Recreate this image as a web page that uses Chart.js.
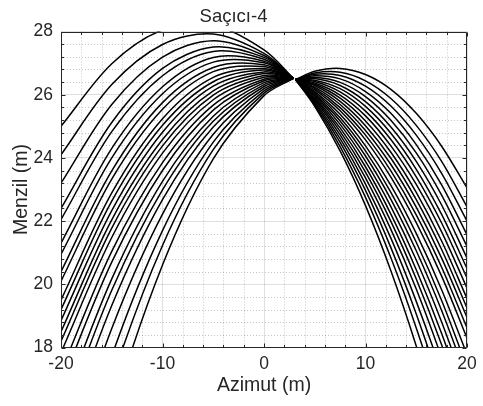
<!DOCTYPE html>
<html>
<head>
<meta charset="utf-8">
<script src="https://cdn.jsdelivr.net/npm/chart.js@4/dist/chart.umd.min.js"></script>
<style>
  body { margin: 0; background: #fff; }
  #wrap { width: 483px; height: 406px; }
</style>
</head>
<body>
<div id="wrap"><canvas id="plot" width="483" height="406"></canvas></div>
<script>
// azimuth samples for the two families of range curves
const leftAzimut = [-20, -15, -10, -5, 0, 2.9];
const rightAzimut = [3.1, 5, 7.5, 10, 12.5, 15, 17.5, 20];

// range (m) of each curve at the azimuth samples above
const leftMenzil = [
  [25.00, 26.98, 28.05, 28.20, 27.42, 26.52],
  [24.10, 26.32, 27.59, 27.92, 27.31, 26.52],
  [23.20, 25.69, 27.19, 27.71, 27.24, 26.52],
  [22.40, 25.12, 26.83, 27.51, 27.18, 26.52],
  [22.05, 24.83, 26.60, 27.37, 27.12, 26.52],
  [21.30, 24.30, 26.25, 27.18, 27.06, 26.52],
  [20.95, 24.00, 26.03, 27.03, 27.01, 26.52],
  [20.40, 23.59, 25.75, 26.86, 26.95, 26.52],
  [20.10, 23.33, 25.54, 26.73, 26.89, 26.52],
  [19.50, 22.89, 25.24, 26.55, 26.83, 26.52],
  [19.20, 22.63, 25.03, 26.41, 26.78, 26.52],
  [18.85, 22.33, 24.81, 26.27, 26.72, 26.52],
  [18.50, 22.04, 24.58, 26.12, 26.67, 26.52],
  [18.20, 21.78, 24.38, 25.99, 26.61, 26.52],
  [17.84, 21.48, 24.15, 25.84, 26.55, 26.52],
  [17.24, 21.04, 23.85, 25.67, 26.49, 26.52],
  [16.81, 20.70, 23.60, 25.51, 26.44, 26.52],
  [16.07, 20.17, 23.26, 25.32, 26.38, 26.52],
  [15.60, 19.81, 22.99, 25.16, 26.32, 26.52],
  [14.95, 19.33, 22.68, 24.98, 26.26, 26.52],
  [13.87, 18.60, 22.22, 24.75, 26.19, 26.52],
  [12.58, 17.73, 21.70, 24.50, 26.12, 26.52],
  [11.44, 16.95, 21.23, 24.26, 26.05, 26.52],
  [9.86, 15.91, 20.61, 23.97, 25.97, 26.52]
];

const rightMenzil = [
  [26.48, 26.74, 26.83, 26.64, 26.17, 25.41, 24.37, 23.05],
  [26.48, 26.69, 26.71, 26.44, 25.88, 25.03, 23.89, 22.45],
  [26.48, 26.65, 26.61, 26.27, 25.64, 24.72, 23.51, 22.00],
  [26.48, 26.60, 26.50, 26.10, 25.41, 24.42, 23.15, 21.57],
  [26.48, 26.55, 26.39, 25.94, 25.19, 24.16, 22.82, 21.20],
  [26.48, 26.51, 26.29, 25.78, 24.98, 23.89, 22.51, 20.83],
  [26.48, 26.46, 26.19, 25.63, 24.78, 23.64, 22.21, 20.50],
  [26.48, 26.42, 26.09, 25.48, 24.58, 23.40, 21.94, 20.20],
  [26.48, 26.37, 25.99, 25.33, 24.38, 23.16, 21.66, 19.88],
  [26.48, 26.33, 25.89, 25.17, 24.18, 22.91, 21.37, 19.55],
  [26.48, 26.29, 25.79, 25.02, 23.99, 22.68, 21.10, 19.25],
  [26.48, 26.24, 25.69, 24.87, 23.79, 22.44, 20.83, 18.95],
  [26.48, 26.20, 25.59, 24.72, 23.59, 22.20, 20.54, 18.62],
  [26.48, 26.15, 25.49, 24.57, 23.39, 21.95, 20.26, 18.30],
  [26.48, 26.10, 25.38, 24.38, 23.13, 21.61, 19.83, 17.78],
  [26.48, 26.06, 25.27, 24.22, 22.91, 21.33, 19.49, 17.38],
  [26.48, 26.01, 25.17, 24.06, 22.69, 21.06, 19.17, 17.02],
  [26.48, 25.97, 25.06, 23.89, 22.46, 20.77, 18.81, 16.60],
  [26.48, 25.92, 24.95, 23.72, 22.22, 20.46, 18.44, 16.15],
  [26.48, 25.87, 24.84, 23.55, 21.99, 20.17, 18.09, 15.74],
  [26.48, 25.83, 24.73, 23.37, 21.74, 19.85, 17.68, 15.25],
  [26.48, 25.78, 24.61, 23.17, 21.46, 19.46, 17.20, 14.66],
  [26.48, 25.73, 24.49, 22.97, 21.16, 19.06, 16.68, 14.01],
  [26.48, 25.68, 24.36, 22.75, 20.84, 18.62, 16.11, 13.30],
  [26.48, 25.63, 24.22, 22.49, 20.43, 18.05, 15.35, 12.32]
];

const xTicks = [-20, -10, 0, 10, 20];
const yTicks = [18, 20, 22, 24, 26, 28];

const FONT = "'Liberation Sans', Arial, Helvetica, sans-serif";
const AXIS_COLOR = "#262626";

function curve(xs, ys) {
  return {
    data: xs.map((x, i) => ({ x: x, y: ys[i] })),
    borderColor: "#000",
    borderWidth: 1.5,
    pointRadius: 0,
    tension: 0.33,
    fill: false
  };
}

const datasets = leftMenzil.map(r => curve(leftAzimut, r))
  .concat(rightMenzil.map(r => curve(rightAzimut, r)));

// dotted minor grid, box and inward ticks like a MATLAB axes
const frame = {
  id: "frame",
  beforeDatasetsDraw(chart) {
    const { ctx, chartArea: a, scales: { x, y } } = chart;
    ctx.save();
    ctx.strokeStyle = "rgba(26,26,26,0.25)";
    ctx.lineWidth = 1;
    ctx.setLineDash([1, 2]);
    ctx.beginPath();
    for (let v = -18; v < 20; v += 2) {
      if (v % 10 === 0) continue;
      const px = Math.round(x.getPixelForValue(v)) + 0.5;
      ctx.moveTo(px, a.top);
      ctx.lineTo(px, a.bottom);
    }
    for (let i = 1; i < 25; i++) {
      if (i % 5 === 0) continue;
      const py = Math.round(y.getPixelForValue(18 + i * 0.4)) + 0.5;
      ctx.moveTo(a.left, py);
      ctx.lineTo(a.right, py);
    }
    ctx.stroke();
    ctx.restore();
  },
  afterDatasetsDraw(chart) {
    const { ctx, chartArea: a, scales: { x, y } } = chart;
    const l = Math.round(a.left) + 0.5, r = Math.round(a.right) - 0.5;
    const t = Math.round(a.top) + 0.5, b = Math.round(a.bottom) - 0.5;
    ctx.save();
    ctx.strokeStyle = AXIS_COLOR;
    ctx.lineWidth = 1;
    ctx.beginPath();
    ctx.rect(l, t, r - l, b - t);
    for (let v = -20; v <= 20; v += 2) {
      const px = Math.round(x.getPixelForValue(v)) + 0.5;
      const len = v % 10 === 0 ? 4 : 2.5;
      ctx.moveTo(px, b); ctx.lineTo(px, b - len);
      ctx.moveTo(px, t); ctx.lineTo(px, t + len);
    }
    for (let i = 0; i <= 25; i++) {
      const py = Math.round(y.getPixelForValue(18 + i * 0.4)) + 0.5;
      const len = i % 5 === 0 ? 4 : 2.5;
      ctx.moveTo(l, py); ctx.lineTo(l + len, py);
      ctx.moveTo(r, py); ctx.lineTo(r - len, py);
    }
    ctx.stroke();
    ctx.restore();
  }
};

new Chart(document.getElementById("plot"), {
  type: "line",
  data: { datasets: datasets },
  plugins: [frame],
  options: {
    responsive: false,
    animation: false,
    devicePixelRatio: 1,
    layout: { padding: { left: 0, right: 16, top: 0, bottom: 0 } },
    elements: { line: { capBezierPoints: false } },
    plugins: {
      legend: { display: false },
      tooltip: { enabled: false },
      title: {
        display: true,
        text: "Saçıcı-4",
        color: AXIS_COLOR,
        font: { family: FONT, size: 18.5, weight: "normal" },
        padding: { top: 5.9, bottom: 3.4 }
      }
    },
    scales: {
      x: {
        type: "linear",
        min: -20,
        max: 20,
        afterBuildTicks: s => { s.ticks = xTicks.map(v => ({ value: v })); },
        afterFit: s => { s.height = 58.5; },
        grid: { color: "rgba(38,38,38,0.15)", drawTicks: false },
        border: { display: false },
        ticks: {
          color: AXIS_COLOR,
          padding: 6,
          maxRotation: 0,
          font: { family: FONT, size: 17.5 }
        },
        title: {
          display: true,
          text: "Azimut (m)",
          color: AXIS_COLOR,
          font: { family: FONT, size: 19.5 },
          padding: { top: 0, bottom: 8.3 }
        }
      },
      y: {
        type: "linear",
        min: 18,
        max: 28,
        afterBuildTicks: s => { s.ticks = yTicks.map(v => ({ value: v })); },
        afterFit: s => { s.width = 61; },
        grid: { color: "rgba(38,38,38,0.15)", drawTicks: false },
        border: { display: false },
        ticks: {
          color: AXIS_COLOR,
          padding: 8,
          font: { family: FONT, size: 17.5 }
        },
        title: {
          display: true,
          text: "Menzil (m)",
          color: AXIS_COLOR,
          font: { family: FONT, size: 19.5 },
          padding: { top: 10.3, bottom: 0 }
        }
      }
    }
  }
});
</script>
</body>
</html>
